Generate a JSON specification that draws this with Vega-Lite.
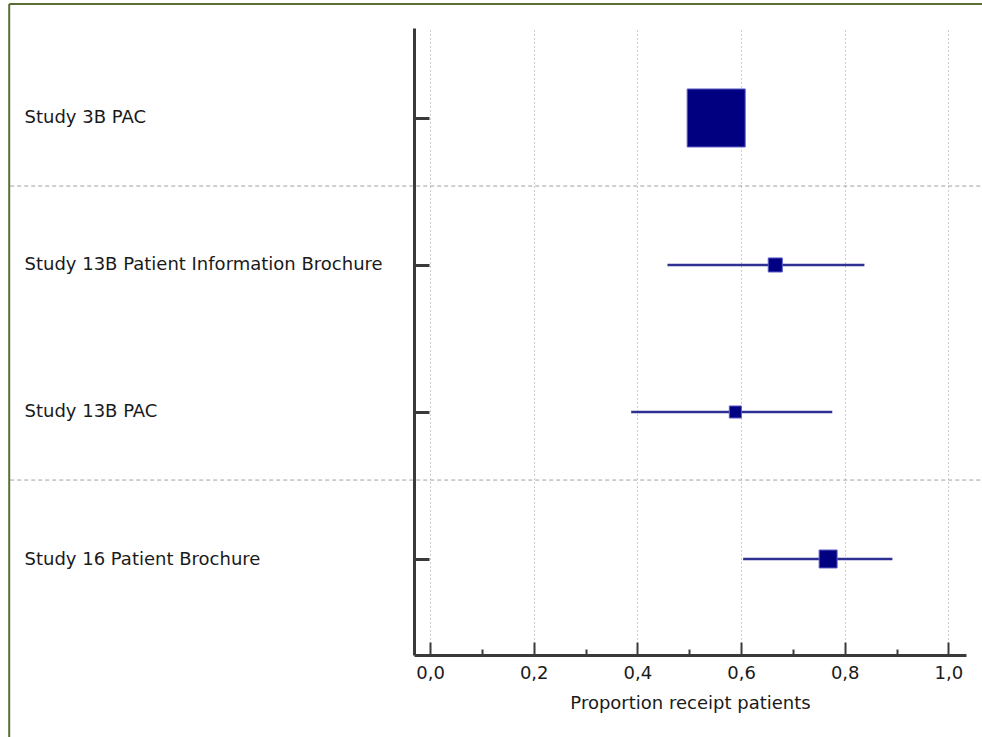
{
  "$schema": "https://vega.github.io/schema/vega-lite/v6.json",
  "autosize": {"type": "none"},
  "padding": {"left": 414, "top": 28, "right": 16, "bottom": 82},
  "width": 552,
  "height": 627,
  "background": "white",
  "config": {
    "view": {"stroke": null},
    "font": "DejaVu Sans",
    "axis": {"labelFont": "DejaVu Sans", "titleFont": "DejaVu Sans"}
  },
  "datasets": {
    "studies": [
      {"study": "Study 3B PAC", "row": 0, "est": 0.552, "lo": 0.50, "hi": 0.605, "weight": 83.5},
      {"study": "Study 13B Patient Information Brochure", "row": 1, "est": 0.666, "lo": 0.458, "hi": 0.838, "weight": 4.9},
      {"study": "Study 13B PAC", "row": 2, "est": 0.589, "lo": 0.388, "hi": 0.776, "weight": 3.6},
      {"study": "Study 16 Patient Brochure", "row": 3, "est": 0.768, "lo": 0.604, "hi": 0.892, "weight": 8.0}
    ],
    "separators": [
      {"x": -0.81, "x2": 1.066, "y": 0.463},
      {"x": -0.81, "x2": 1.066, "y": 2.463}
    ],
    "border": [
      {"x": -0.812, "x2": 1.066, "y": -0.775, "y2": -0.775},
      {"x": -0.812, "x2": -0.812, "y": -0.775, "y2": 4.3}
    ]
  },
  "layer": [
    {
      "data": {"name": "separators"},
      "mark": {"type": "rule", "clip": false, "color": "#a0a0a0", "strokeWidth": 1, "strokeDash": [4, 3]},
      "encoding": {
        "x": {"field": "x", "type": "quantitative"},
        "x2": {"field": "x2"},
        "y": {"field": "y", "type": "quantitative"}
      }
    },
    {
      "data": {"name": "border"},
      "mark": {"type": "rule", "clip": false, "color": "#5b6e34", "strokeWidth": 2},
      "encoding": {
        "x": {"field": "x", "type": "quantitative"},
        "x2": {"field": "x2"},
        "y": {"field": "y", "type": "quantitative"},
        "y2": {"field": "y2"}
      }
    },
    {
      "data": {"name": "studies"},
      "mark": {"type": "rule", "color": "#2e3192", "strokeWidth": 2.5},
      "encoding": {
        "x": {
          "field": "lo", "type": "quantitative",
          "scale": {"domain": [-0.031, 1.034], "nice": false, "zero": false},
          "axis": {
            "values": [0, 0.1, 0.2, 0.3, 0.4, 0.5, 0.6, 0.7, 0.8, 0.9, 1.0],
            "labelExpr": "round(datum.value*10)%2==0 ? replace(format(datum.value,'.1f'),'.',',') : ''",
            "title": "Proportion receipt patients",
            "domainColor": "#3a3a3a", "domainWidth": 3,
            "tickColor": "#3a3a3a", "tickWidth": 2,
            "tickSize": {"condition": {"test": "round(datum.value*10)%2==0", "value": -13}, "value": -6},
            "grid": true,
            "gridColor": {"condition": {"test": "round(datum.value*10)%2==0", "value": "#9a9a9a"}, "value": "transparent"},
            "gridDash": [1, 3], "gridWidth": 1,
            "labelFontSize": 18, "labelColor": "#1a1a1a", "labelPadding": 22,
            "titleFontSize": 18, "titleFontWeight": "normal", "titleColor": "#1a1a1a", "titlePadding": 12
          }
        },
        "x2": {"field": "hi"},
        "y": {
          "field": "row", "type": "quantitative",
          "scale": {"domain": [-0.612, 3.653], "nice": false, "zero": false, "reverse": true},
          "axis": {
            "values": [0, 1, 2, 3],
            "labelExpr": "['Study 3B PAC','Study 13B Patient Information Brochure','Study 13B PAC','Study 16 Patient Brochure'][datum.value]",
            "title": null,
            "grid": false,
            "domainColor": "#3a3a3a", "domainWidth": 3,
            "tickColor": "#3a3a3a", "tickWidth": 3, "tickSize": -15,
            "labelAlign": "left", "labelPadding": 405, "labelLimit": 0,
            "labelFontSize": 18, "labelColor": "#1a1a1a"
          }
        }
      }
    },
    {
      "data": {"name": "studies"},
      "mark": {"type": "point", "shape": "square", "filled": true, "color": "#000080", "stroke": "#5a5ac8", "strokeWidth": 1, "opacity": 1},
      "encoding": {
        "x": {"field": "est", "type": "quantitative"},
        "y": {"field": "row", "type": "quantitative"},
        "size": {"field": "weight", "type": "quantitative", "scale": {"domain": [0, 100], "range": [0, 4028]}, "legend": null}
      }
    }
  ]
}
